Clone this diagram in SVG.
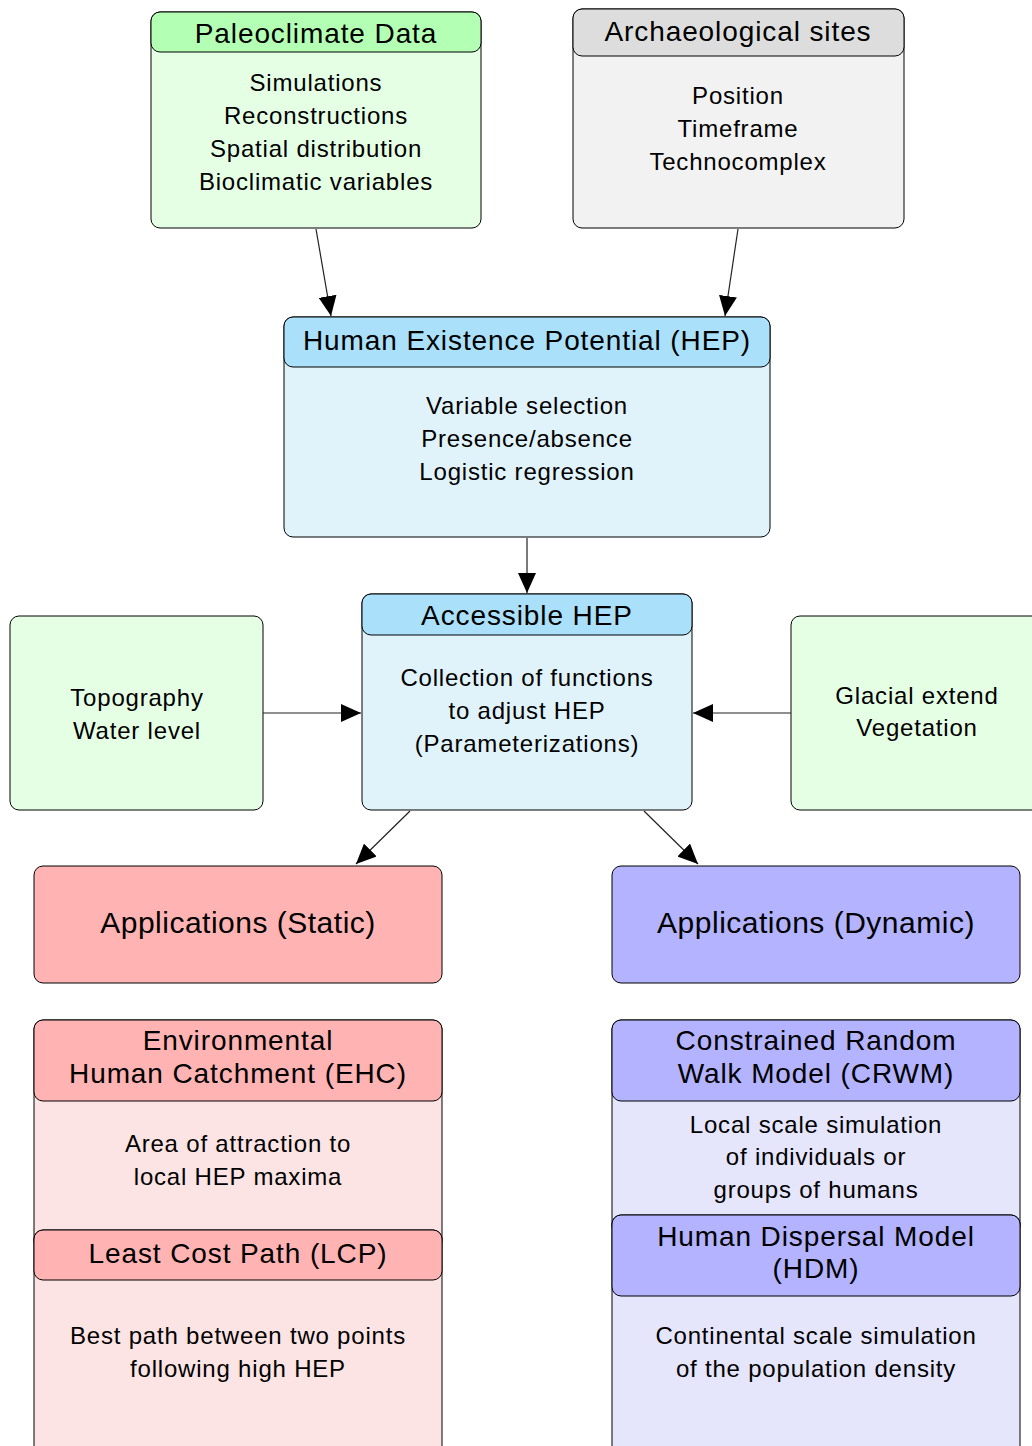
<svg xmlns="http://www.w3.org/2000/svg" width="1032" height="1446" viewBox="0 0 1032 1446">
<defs>
<marker id="ah" viewBox="0 0 20 18" refX="20" refY="9" markerWidth="20" markerHeight="18" markerUnits="userSpaceOnUse" orient="auto">
<path d="M0,0 L20,9 L0,18 z" fill="#000"/>
</marker>
<style>
rect{stroke:#000;stroke-width:1}
text{font-family:"Liberation Sans",Arial,sans-serif;fill:#000;text-anchor:middle;dominant-baseline:central}
.t{font-size:28px;letter-spacing:0.9px}
.b{font-size:24px;letter-spacing:0.8px}
.a{font-size:30px;letter-spacing:0.5px}
.gh{fill:#b3ffb3}.gb{fill:#e5ffe5}
.kh{fill:#dddddd}.kb{fill:#f2f2f2}
.ch{fill:#aae0fa}.cb{fill:#e0f3fa}
.rh{fill:#ffb3b3}.rb{fill:#fde4e4}
.vh{fill:#b3b3ff}.vb{fill:#e5e5fb}
.c line{stroke:#222;stroke-width:1.2;marker-end:url(#ah)}
</style>
</defs>
<rect width="1032" height="1446" fill="#fff" style="stroke:none"/>

<g id="paleo">
<rect class="gb" x="151" y="12" width="330" height="216" rx="9"/>
<rect class="gh" x="151" y="12" width="330" height="40" rx="9"/>
<text class="t" x="316" y="33">Paleoclimate Data</text>
<text class="b" x="316" y="82">Simulations</text>
<text class="b" x="316" y="115">Reconstructions</text>
<text class="b" x="316" y="148">Spatial distribution</text>
<text class="b" x="316" y="181">Bioclimatic variables</text>
</g>

<g id="arch">
<rect class="kb" x="573" y="9" width="331" height="219" rx="9"/>
<rect class="kh" x="573" y="9" width="331" height="47" rx="9"/>
<text class="t" x="738" y="31">Archaeological sites</text>
<text class="b" x="738" y="95">Position</text>
<text class="b" x="738" y="128">Timeframe</text>
<text class="b" x="738" y="161">Technocomplex</text>
</g>

<g id="hep">
<rect class="cb" x="284" y="317" width="486" height="220" rx="9"/>
<rect class="ch" x="284" y="317" width="486" height="50" rx="9"/>
<text class="t" x="527" y="340">Human Existence Potential (HEP)</text>
<text class="b" x="527" y="405">Variable selection</text>
<text class="b" x="527" y="438">Presence/absence</text>
<text class="b" x="527" y="471">Logistic regression</text>
</g>

<g id="acc">
<rect class="cb" x="362" y="594" width="330" height="216" rx="9"/>
<rect class="ch" x="362" y="594" width="330" height="41" rx="9"/>
<text class="t" x="527" y="615">Accessible HEP</text>
<text class="b" x="527" y="677">Collection of functions</text>
<text class="b" x="527" y="710">to adjust HEP</text>
<text class="b" x="527" y="743">(Parameterizations)</text>
</g>

<g id="topo">
<rect class="gb" x="10" y="616" width="253" height="194" rx="9"/>
<text class="b" x="137" y="697">Topography</text>
<text class="b" x="137" y="730">Water level</text>
</g>

<g id="glac">
<rect class="gb" x="791" y="616" width="260" height="194" rx="9"/>
<text class="b" x="917" y="695">Glacial extend</text>
<text class="b" x="917" y="727">Vegetation</text>
</g>

<g id="static">
<rect class="rh" x="34" y="866" width="408" height="117" rx="9"/>
<text class="a" x="238" y="922">Applications (Static)</text>
</g>

<g id="dynamic">
<rect class="vh" x="612" y="866" width="408" height="117" rx="9"/>
<text class="a" x="816" y="922">Applications (Dynamic)</text>
</g>

<g id="ehc">
<rect class="rb" x="34" y="1020" width="408" height="230" rx="9"/>
<rect class="rh" x="34" y="1020" width="408" height="81" rx="9"/>
<text class="t" x="238" y="1040">Environmental</text>
<text class="t" x="238" y="1073">Human Catchment (EHC)</text>
<text class="b" x="238" y="1143">Area of attraction to</text>
<text class="b" x="238" y="1176">local HEP maxima</text>
</g>

<g id="lcp">
<rect class="rb" x="34" y="1230" width="408" height="230" rx="9"/>
<rect class="rh" x="34" y="1230" width="408" height="50" rx="9"/>
<text class="t" x="238" y="1253">Least Cost Path (LCP)</text>
<text class="b" x="238" y="1335">Best path between two points</text>
<text class="b" x="238" y="1368">following high HEP</text>
</g>

<g id="crwm">
<rect class="vb" x="612" y="1020" width="408" height="215" rx="9"/>
<rect class="vh" x="612" y="1020" width="408" height="81" rx="9"/>
<text class="t" x="816" y="1040">Constrained Random</text>
<text class="t" x="816" y="1073">Walk Model (CRWM)</text>
<text class="b" x="816" y="1124">Local scale simulation</text>
<text class="b" x="816" y="1156">of individuals or</text>
<text class="b" x="816" y="1189">groups of humans</text>
</g>

<g id="hdm">
<rect class="vb" x="612" y="1215" width="408" height="245" rx="9"/>
<rect class="vh" x="612" y="1215" width="408" height="81" rx="9"/>
<text class="t" x="816" y="1236">Human Dispersal Model</text>
<text class="t" x="816" y="1268">(HDM)</text>
<text class="b" x="816" y="1335">Continental scale simulation</text>
<text class="b" x="816" y="1368">of the population density</text>
</g>

<g id="connectors" class="c">
<line x1="316" y1="229" x2="331" y2="316"/>
<line x1="738" y1="229" x2="725" y2="316"/>
<line x1="527" y1="538" x2="527" y2="593"/>
<line x1="263" y1="713" x2="361" y2="713"/>
<line x1="791" y1="713" x2="693" y2="713"/>
<line x1="410" y1="811" x2="356" y2="864"/>
<line x1="644" y1="811" x2="698" y2="864"/>
</g>
</svg>
